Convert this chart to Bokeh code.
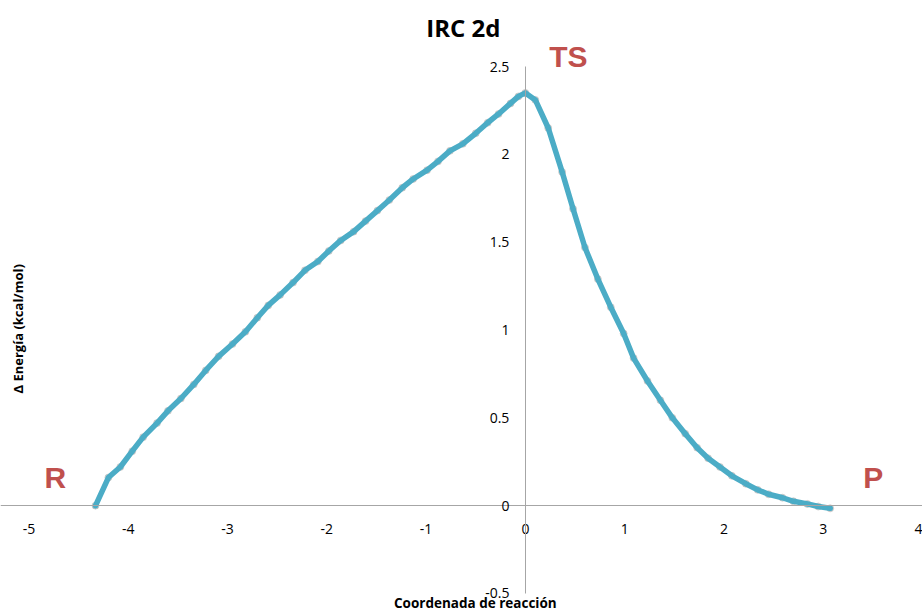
import math
from bokeh.plotting import figure
from bokeh.models import Range1d, Label, FixedTicker
from bokeh.embed import file_html
from bokeh.resources import INLINE

# Reaction coordinate and relative energy (kcal/mol)
coord = [-4.33, -4.20, -4.08, -3.96, -3.85, -3.71, -3.60, -3.47, -3.34, -3.22,
         -3.09, -2.95, -2.82, -2.70, -2.59, -2.47, -2.34, -2.22, -2.09, -1.98,
         -1.86, -1.73, -1.61, -1.49, -1.37, -1.24, -1.13, -0.99, -0.88, -0.76,
         -0.63, -0.50, -0.38, -0.27, -0.15, -0.07, 0.00, 0.10, 0.23, 0.37,
         0.48, 0.60, 0.73, 0.86, 0.99, 1.09, 1.23, 1.36, 1.48, 1.61,
         1.73, 1.84, 1.96, 2.08, 2.22, 2.34, 2.45, 2.59, 2.70, 2.84,
         2.95, 3.07]
energy = [0.00, 0.16, 0.22, 0.31, 0.39, 0.47, 0.54, 0.61, 0.69, 0.77,
          0.85, 0.92, 0.99, 1.07, 1.14, 1.20, 1.27, 1.34, 1.39, 1.45,
          1.51, 1.56, 1.62, 1.68, 1.74, 1.81, 1.86, 1.91, 1.96, 2.02,
          2.06, 2.12, 2.18, 2.23, 2.29, 2.33, 2.35, 2.31, 2.15, 1.90,
          1.69, 1.47, 1.29, 1.13, 0.98, 0.84, 0.71, 0.60, 0.50, 0.41,
          0.33, 0.27, 0.22, 0.17, 0.125, 0.09, 0.065, 0.045, 0.025, 0.01,
          -0.005, -0.015]

x_ticks = [-5, -4, -3, -2, -1, 0, 1, 2, 3, 4]
x_tick_labels = ["-5", "-4", "-3", "-2", "-1", "0", "1", "2", "3", "4"]
y_ticks = [-0.5, 0, 0.5, 1, 1.5, 2, 2.5]
y_tick_labels = ["-0.5", "0", "0.5", "1", "1.5", "2", "2.5"]

title_text = "IRC 2d"
x_title = "Coordenada de reacción"
y_title = "Δ Energía (kcal/mol)"
point_labels = ["R", "TS", "P"]

# ---- layout / style (positions of annotations in data space) ----
FONT = "Open Sans"
LINE_COLOR = "#4BACC6"
AXIS_COLOR = "#A6A6A6"
ANN_COLOR = "#C0504D"

point_label_x = [-4.734, 0.433, 3.505]
point_label_y = [0.159, 2.555, 0.159]

p = figure(width=922, height=613,
           x_range=Range1d(-5.287, 4.0), y_range=Range1d(-0.614, 2.876),
           output_backend="svg", toolbar_location=None, title=None,
           min_border=0, min_border_left=0, min_border_right=0,
           min_border_top=0, min_border_bottom=0)

p.outline_line_color = None
p.xgrid.visible = False
p.ygrid.visible = False
p.background_fill_color = "white"
p.border_fill_color = "white"

for ax in (p.xaxis, p.yaxis):
    ax.fixed_location = 0
    ax.axis_line_color = AXIS_COLOR
    ax.axis_line_width = 1
    ax.major_tick_out = 0
    ax.major_tick_in = 0
    ax.minor_tick_out = 0
    ax.minor_tick_in = 0
    ax.major_label_text_font = FONT
    ax.major_label_text_font_size = "14px"
    ax.major_label_text_color = "#000000"

p.xaxis.major_label_standoff = 18
p.yaxis.major_label_standoff = 16
p.yaxis.bounds = (min(y_ticks), max(y_ticks))
p.xaxis.ticker = FixedTicker(ticks=x_ticks)
p.yaxis.ticker = FixedTicker(ticks=y_ticks)
p.xaxis.major_label_overrides = {t: l for t, l in zip(x_ticks, x_tick_labels)}
p.yaxis.major_label_overrides = {t: l for t, l in zip(y_ticks, y_tick_labels)}

# series (with a faint shadow under the markers)
p.scatter(coord, energy, size=7, color="#707070", alpha=0.25)
p.line(coord, energy, line_color=LINE_COLOR, line_width=5.5,
       line_join="round", line_cap="round")
p.scatter(coord, energy, size=5, fill_color=LINE_COLOR, line_color=None)

# chart title and axis titles
p.add_layout(Label(x=-0.625, y=2.72, text=title_text, text_align="center",
                   text_baseline="middle", text_font=FONT, text_font_size="24px",
                   text_font_style="bold", text_color="#000000"))
p.add_layout(Label(x=-0.504, y=-0.554, text=x_title, text_align="center",
                   text_baseline="middle", text_font=FONT, text_font_size="13.5px",
                   text_font_style="bold", text_color="#000000"))
p.add_layout(Label(x=-5.107, y=1.007, text=y_title, text_align="center",
                   text_baseline="middle", angle=math.pi / 2, text_font=FONT,
                   text_font_size="13px", text_font_style="bold",
                   text_color="#000000"))

for t, x, y in zip(point_labels, point_label_x, point_label_y):
    p.add_layout(Label(x=x, y=y, text=t, text_align="center", text_baseline="middle",
                       text_font="Liberation Sans", text_font_size="30px",
                       text_font_style="bold", text_color=ANN_COLOR))

open("out.html", "w").write(file_html(p, INLINE))
